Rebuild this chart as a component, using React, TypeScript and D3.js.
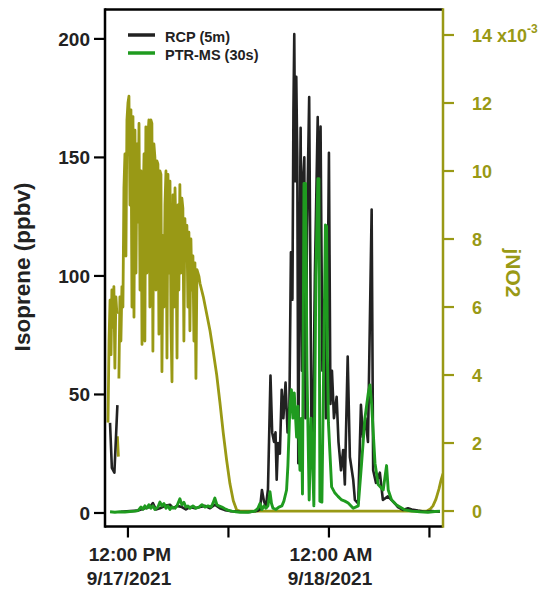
import React from "react";
import * as d3 from "d3";

// time in decimal hours since 2021-09-17 00:00 (12 = 12:00 PM 9/17, 24 = 12:00 AM 9/18)
type Pt = [number, number | null];

const xDomainHours: [number, number] = [10.63, 30.81];
const leftDomain: [number, number] = [-5.7, 212.4];
const rightDomain: [number, number] = [-0.455, 14.75];
const leftTicks = [0, 50, 100, 150, 200];
const rightTicks = [0, 2, 4, 6, 8, 10, 12, 14];
const timeTickHours = [12, 18, 24, 30];
const timeTickLabels: (string[] | null)[] = [["12:00 PM", "9/17/2021"], null, ["12:00 AM", "9/18/2021"], null];
const seriesNames = ["RCP (5m)", "PTR-MS (30s)"];

// jNO2 (x10^-3 s^-1)
const jno2: Pt[] = [
  [10.81, 2.6], [10.87, 5.0], [10.93, 6.2], [10.99, 4.6], [11.04, 6.5], [11.10, 5.4], [11.16, 6.6], [11.22, 4.2],
  [11.28, 6.3], [11.34, 5.8], [11.36, null], [11.37, 2.2], [11.43, 1.6], [11.45, null],
  [11.46, 3.9], [11.52, 6.3], [11.58, 5.0], [11.64, 6.6], [11.70, 6.0], [11.76, 9.5], [11.82, 10.5], [11.88, 7.5],
  [11.94, 11.5], [12.00, 12.0], [12.06, 12.2], [12.12, 9.0], [12.18, 11.8], [12.24, 6.0], [12.30, 11.6], [12.36, 5.7],
  [12.42, 11.2], [12.48, 7.0], [12.54, 10.8], [12.60, 8.5], [12.66, 11.4], [12.72, 6.5], [12.78, 10.0], [12.84, 4.9],
  [12.90, 8.8], [12.96, 10.5], [13.01, 5.0], [13.07, 11.3], [13.13, 7.0], [13.19, 11.0], [13.25, 11.5], [13.31, 6.0],
  [13.37, 11.5], [13.43, 11.4], [13.49, 4.7], [13.55, 10.8], [13.61, 10.4], [13.67, 6.5], [13.73, 10.3], [13.79, 10.2],
  [13.85, 5.2], [13.91, 10.0], [13.97, 9.9], [14.03, 4.1], [14.09, 8.1], [14.15, 6.0], [14.21, 9.0], [14.27, 10.0],
  [14.33, 4.5], [14.39, 9.9], [14.45, 7.0], [14.51, 9.7], [14.57, 5.5], [14.63, 3.8], [14.69, 9.3], [14.75, 6.0],
  [14.81, 9.5], [14.87, 8.0], [14.93, 4.5], [14.99, 9.0], [15.04, 6.5], [15.10, 9.6], [15.16, 7.0], [15.22, 9.2],
  [15.28, 8.9], [15.34, 5.0], [15.40, 8.6], [15.46, 7.5], [15.52, 8.4], [15.58, 6.0], [15.64, 8.2], [15.70, 5.3],
  [15.76, 8.0], [15.82, 6.5], [15.88, 7.5], [15.94, 5.0], [16.00, 7.3], [16.06, 3.9], [16.12, 7.1], [16.24, 6.9],
  [16.30, 6.7], [16.50, 6.3], [16.70, 5.8], [16.90, 5.3], [17.09, 4.7], [17.30, 4.0], [17.49, 3.2], [17.69, 2.3],
  [17.89, 1.5], [18.09, 0.8], [18.29, 0.3], [18.49, 0.03], [18.69, 0], [29.85, 0], [30.03, 0.05], [30.21, 0.15],
  [30.39, 0.35], [30.57, 0.65], [30.69, 0.9], [30.81, 1.1],
];

// RCP isoprene (ppbv)
const rcp: Pt[] = [
  [10.93, 38], [11.04, 19], [11.19, 17], [11.37, 45.5], [11.40, null],
  [11.58, 0.5], [12.12, 0.8], [12.60, 1.0], [13.01, 2.0], [13.31, 2.5], [13.49, 4.2], [13.67, 1.5], [13.91, 2.0],
  [14.21, 3.0], [14.51, 3.5], [14.69, 2.0], [14.93, 3.0], [15.22, 2.5], [15.46, 1.5], [15.70, 2.5], [16.00, 2.0],
  [16.30, 2.5], [16.60, 3.0], [16.90, 2.0], [17.19, 3.5], [17.49, 2.0], [17.79, 1.2], [18.09, 0.8], [18.69, 0.5],
  [19.28, 0.4], [19.76, 1.0], [19.88, 1.5], [20.00, 9.7], [20.12, 5], [20.24, 3], [20.36, 10], [20.51, 58],
  [20.61, 34], [20.72, 30], [20.81, 34], [20.88, 14], [20.96, 29.5], [21.07, 25], [21.18, 52], [21.28, 40],
  [21.41, 55], [21.53, 34], [21.64, 45], [21.73, 110], [21.82, 90], [21.88, 170], [21.93, 202], [21.99, 140],
  [22.05, 184], [22.11, 150], [22.17, 21], [22.24, 100], [22.31, 162.5], [22.39, 60], [22.45, 140], [22.53, 150],
  [22.60, 40], [22.69, 120], [22.82, 175.5], [22.96, 30], [23.06, 37], [23.16, 100], [23.33, 167], [23.40, 120],
  [23.50, 163], [23.61, 60], [23.73, 90], [23.82, 40], [23.91, 80], [24.00, 152], [24.09, 46], [24.18, 60],
  [24.30, 40], [24.46, 49], [24.57, 30], [24.72, 18], [24.85, 26.6], [24.95, 12], [25.12, 66], [25.25, 23.6],
  [25.45, 14], [25.55, 5.5], [25.75, 4], [25.91, 45.6], [26.03, 32], [26.18, 40], [26.33, 30], [26.55, 128],
  [26.64, 18], [26.81, 12.7], [27.04, 17], [27.22, 5.5], [27.52, 7], [27.74, 5.5], [27.94, 4], [28.12, 2.5],
  [28.42, 1.3], [28.72, 2], [28.95, 1.5], [29.31, 1], [29.73, 0.5], [30.15, 0.8], [30.63, 0.5],
];

// PTR-MS isoprene (ppbv)
const ptrms: Pt[] = [
  [10.93, 0.5], [11.22, 0.3], [11.52, 0.5], [11.82, 0.4], [12.12, 0.6], [12.42, 0.8], [12.60, 1.0], [12.78, 2.5],
  [12.90, 1.5], [13.01, 3.0], [13.13, 2.0], [13.25, 3.5], [13.37, 2.0], [13.49, 3.0], [13.61, 1.5], [13.79, 2.5],
  [13.91, 4.6], [14.03, 3.0], [14.15, 4.0], [14.27, 2.0], [14.39, 3.0], [14.51, 1.5], [14.63, 2.5], [14.81, 2.0],
  [14.93, 3.0], [15.10, 6.0], [15.22, 3.5], [15.34, 4.5], [15.46, 2.5], [15.58, 3.0], [15.70, 2.0], [15.88, 3.0],
  [16.06, 2.0], [16.24, 2.5], [16.42, 3.5], [16.60, 2.5], [16.78, 3.0], [16.96, 2.5], [17.07, 4.0], [17.19, 6.3],
  [17.31, 3.5], [17.43, 3.0], [17.61, 2.5], [17.79, 1.8], [17.97, 1.2], [18.21, 0.8], [18.45, 0.5], [18.69, 0.3],
  [19.16, 0.3], [19.58, 0.8], [19.76, 2], [19.88, 4], [20.00, 1.5], [20.12, 3], [20.24, 2], [20.36, 3],
  [20.48, 9], [20.57, 4], [20.66, 2], [20.84, 1.5], [21.01, 2.5], [21.19, 3], [21.31, 5], [21.47, 9.7],
  [21.55, 20], [21.67, 45], [21.76, 52], [21.85, 40], [21.93, 50.6], [22.07, 32], [22.15, 45], [22.27, 18],
  [22.36, 40], [22.42, 8], [22.51, 139], [22.60, 139], [22.69, 60], [22.82, 5.5], [22.93, 40], [23.01, 25],
  [23.10, 3], [23.22, 100], [23.34, 141], [23.40, 141], [23.46, 5], [23.58, 4.6], [23.70, 70], [23.79, 121.5],
  [23.86, 121], [23.91, 66], [23.97, 38], [24.16, 11], [24.36, 8.4], [24.54, 7], [24.76, 5.5], [24.95, 5],
  [25.15, 4.2], [25.45, 2], [25.75, 3], [25.95, 21], [26.15, 40], [26.35, 50.6], [26.45, 54], [26.55, 45.6],
  [26.75, 21], [26.94, 12], [27.24, 9.7], [27.44, 20], [27.54, 9.7], [27.74, 5.5], [28.04, 3.4], [28.54, 1.3],
  [28.95, 0.8], [29.43, 0.5], [29.91, 0.3], [30.33, 0.6], [30.63, 0.8],
];

const BASE = new Date(2021, 8, 17, 0, 0, 0).getTime();
const toDate = (h: number) => new Date(BASE + h * 3600 * 1000);

const W = 549, H = 591;
const L = 105, R = 443, T = 9.5, B = 526.5;
const OLIVE = "#999915";
const GREEN = "#1f9b1f";
const BLACK = "#222222";
const FONT = "'Liberation Sans', Arial, sans-serif";

export default function App() {
  const x = d3.scaleTime().domain(xDomainHours.map(toDate)).range([L, R]);
  const yL = d3.scaleLinear().domain(leftDomain).range([B, T]);
  const yR = d3.scaleLinear().domain(rightDomain).range([B, T]);

  const lineL = d3.line<Pt>()
    .defined((d) => d[1] !== null)
    .x((d) => x(toDate(d[0])))
    .y((d) => yL(d[1] as number));
  const lineR = d3.line<Pt>()
    .defined((d) => d[1] !== null)
    .x((d) => x(toDate(d[0])))
    .y((d) => yR(d[1] as number));

  return (
    <svg width={W} height={H} style={{ position: "absolute", left: 0, top: 0, background: "#fff" }} fontFamily={FONT}>
      <defs>
        <clipPath id="plot">
          <rect x={L} y={T} width={R - L} height={B - T} />
        </clipPath>
      </defs>
      <g clipPath="url(#plot)">
        <path d={lineR(jno2) || ""} fill="none" stroke={OLIVE} strokeWidth={2.8} strokeLinejoin="round" />
        <path d={lineL(rcp) || ""} fill="none" stroke={BLACK} strokeWidth={2.6} strokeLinejoin="round" />
        <path d={lineL(ptrms) || ""} fill="none" stroke={GREEN} strokeWidth={2.9} strokeLinejoin="round" />
      </g>

      {/* frame */}
      <line x1={L} x2={R} y1={T} y2={T} stroke="#000" strokeWidth={2.5} />
      <line x1={L} x2={R} y1={B} y2={B} stroke="#000" strokeWidth={2.5} />
      <line x1={L} x2={L} y1={T - 1.25} y2={B + 1.25} stroke="#000" strokeWidth={2.5} />
      <line x1={R} x2={R} y1={T - 1.25} y2={B + 1.25} stroke={OLIVE} strokeWidth={2.5} />

      {/* left axis */}
      {leftTicks.map((v) => (
        <g key={"l" + v}>
          <line x1={L - 11} x2={L} y1={yL(v)} y2={yL(v)} stroke="#000" strokeWidth={2.2} />
          <text x={90} y={yL(v) + 6.8} textAnchor="end" fontSize={19} fontWeight="bold" fill="#222">{v}</text>
        </g>
      ))}
      <text transform={`translate(30,267) rotate(-90)`} textAnchor="middle" fontSize={22.5} fontWeight="bold" fill="#222">Isoprene (ppbv)</text>

      {/* right axis */}
      {rightTicks.map((v) => (
        <g key={"r" + v}>
          <line x1={R} x2={R + 11} y1={yR(v)} y2={yR(v)} stroke={OLIVE} strokeWidth={2.2} />
          <text x={472} y={yR(v) + 6.5} fontSize={18} fontWeight="bold" fill={OLIVE}>
            {v}
            {v === 14 ? (
              <>
                <tspan> x10</tspan>
                <tspan dy={-9} fontSize={12}>-3</tspan>
              </>
            ) : null}
          </text>
        </g>
      ))}
      <text transform={`translate(506,273) rotate(90)`} textAnchor="middle" fontSize={21} fontWeight="bold" fill={OLIVE}>jNO2</text>

      {/* bottom axis */}
      {timeTickHours.map((h, i) => {
        const px = x(toDate(h));
        const lab = timeTickLabels[i];
        return (
          <g key={"b" + h}>
            <line x1={px} x2={px} y1={B} y2={B + 11} stroke="#000" strokeWidth={2.2} />
            {lab ? (
              <>
                <text x={px + 2} y={561} textAnchor="middle" fontSize={19} fontWeight="bold" fill="#222">{lab[0]}</text>
                <text x={px + 1} y={585} textAnchor="middle" fontSize={19} fontWeight="bold" fill="#222">{lab[1]}</text>
              </>
            ) : null}
          </g>
        );
      })}

      {/* legend */}
      <line x1={128} x2={155} y1={35} y2={35} stroke={BLACK} strokeWidth={3.5} />
      <text x={165} y={42} fontSize={14.5} fontWeight="bold" fill="#222">{seriesNames[0]}</text>
      <line x1={128} x2={155} y1={53} y2={53} stroke={GREEN} strokeWidth={3.5} />
      <text x={165} y={60} fontSize={14.5} fontWeight="bold" fill="#222">{seriesNames[1]}</text>
    </svg>
  );
}
